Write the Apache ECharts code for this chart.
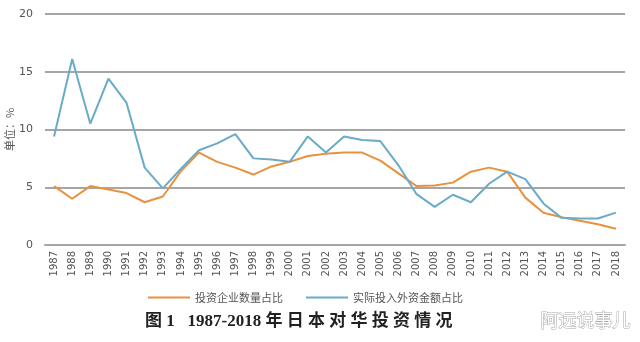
<!DOCTYPE html>
<html><head><meta charset="utf-8">
<script src="https://cdn.jsdelivr.net/npm/echarts@6/dist/echarts.min.js"></script>
<style>html,body{margin:0;padding:0;background:#fff}#c{width:640px;height:342px}</style>
</head><body><div id="c"></div>
<script>
const years = ['1987','1988','1989','1990','1991','1992','1993','1994','1995','1996','1997','1998','1999','2000','2001','2002','2003','2004','2005','2006','2007','2008','2009','2010','2011','2012','2013','2014','2015','2016','2017','2018'];
const enterpriseShare = [5.1,4.0,5.1,4.8,4.5,3.7,4.2,6.4,8.0,7.2,6.7,6.1,6.8,7.2,7.7,7.9,8.0,8.0,7.3,6.2,5.1,5.15,5.4,6.35,6.7,6.35,4.1,2.8,2.4,2.1,1.8,1.4];
const capitalShare = [9.4,16.1,10.5,14.4,12.3,6.7,4.9,6.6,8.2,8.8,9.6,7.5,7.4,7.2,9.4,8.0,9.4,9.1,9.0,6.9,4.4,3.3,4.35,3.7,5.3,6.35,5.7,3.6,2.35,2.3,2.3,2.8];
const yTicks = [0,5,10,15,20];
const seriesNames = ['投资企业数量占比','实际投入外资金额占比'];

const chart = echarts.init(document.getElementById('c'));
chart.setOption({
  animation:false,
  backgroundColor:'#fff',
  grid:{left:45,right:15,top:14,bottom:97,outerBoundsMode:'none',containLabel:false},
  legend:{
    top:287,left:143,itemWidth:42,itemHeight:2,itemGap:23,
    icon:'rect',
    textStyle:{fontSize:11,color:'#555',fontFamily:'Noto Sans CJK SC',padding:[0,0,0,0]},
    data:seriesNames
  },
  xAxis:{
    type:'category',data:years,boundaryGap:true,
    axisLine:{lineStyle:{color:'#a6a6a6',width:2}},
    axisTick:{show:false},
    axisLabel:{rotate:90,fontSize:10,color:'#555',fontFamily:'DejaVu Sans',interval:0,margin:6}
  },
  yAxis:{
    type:'value',min:yTicks[0],max:yTicks[yTicks.length-1],interval:5,
    name:'单位：%',nameLocation:'middle',nameGap:30,nameRotate:90,nameMoveOverlap:false,
    nameTextStyle:{fontSize:11,color:'#555',fontFamily:'Noto Sans CJK SC'},
    axisLine:{show:false},axisTick:{show:false},
    axisLabel:{fontSize:11,color:'#555',fontFamily:'DejaVu Sans',margin:12},
    splitLine:{lineStyle:{color:'#a6a6a6',width:2}}
  },
  series:[
    {name:seriesNames[0],type:'line',data:enterpriseShare,symbol:'none',
     lineStyle:{color:'#e8913f',width:2},itemStyle:{color:'#e8913f'}},
    {name:seriesNames[1],type:'line',data:capitalShare,symbol:'none',
     lineStyle:{color:'#6aabc8',width:2},itemStyle:{color:'#6aabc8'}}
  ],
  graphic:[
    {type:'text',left:145,top:313,style:{text:'图 1   1987-2018 年 日 本 对 华 投 资 情 况',font:'bold 17px "Liberation Serif", "Noto Sans CJK SC"',fill:'#222'}},
    {type:'text',left:540,top:311,style:{text:'阿远说事儿',font:'18px "Noto Sans CJK SC"',fill:'#fff',stroke:'#aaa',lineWidth:1}}
  ]
});
</script></body></html>
